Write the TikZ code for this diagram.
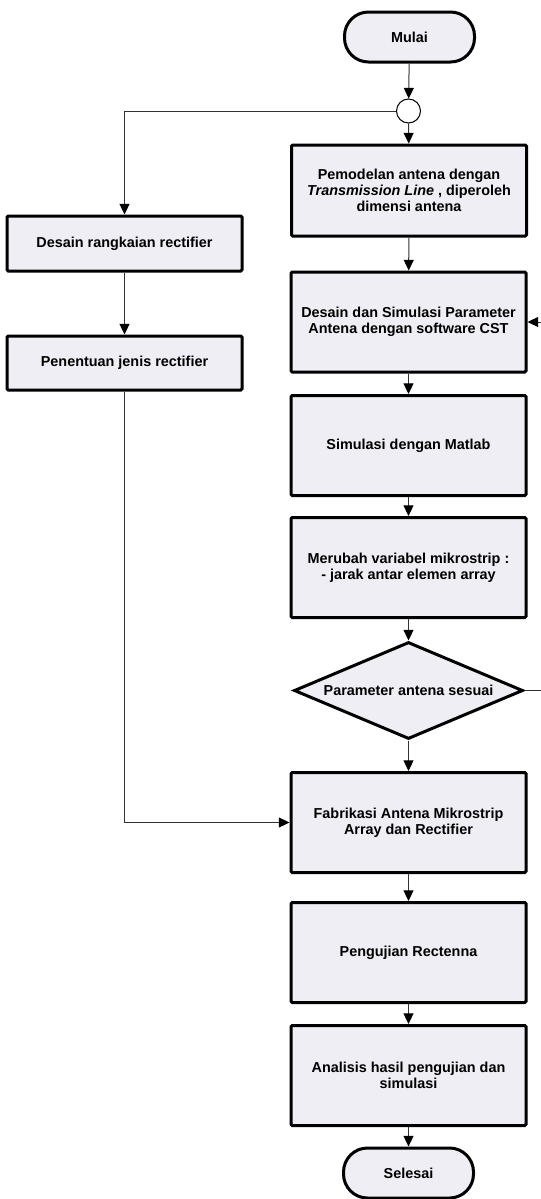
\documentclass[tikz,border=0pt]{standalone}
\usepackage{fontspec}
\setmainfont{Liberation Sans}
\usetikzlibrary{shapes.geometric,arrows.meta}
\definecolor{boxfill}{RGB}{239,238,244}
\definecolor{linecol}{RGB}{50,50,50}
\begin{document}
\begin{tikzpicture}[x=0.75pt,y=-0.75pt,
  every node/.style={font=\fontsize{10.8}{12}\selectfont\bfseries, align=center},
  proc/.style={draw=black, line width=2.25pt, fill=boxfill, rectangle, rounded corners=1pt,
    minimum width=176.25pt, minimum height=75pt, inner sep=0pt},
  term/.style={draw=black, line width=2.25pt, fill=boxfill, rectangle, rounded corners=18pt,
    minimum width=97.5pt, minimum height=37.5pt, inner sep=0pt},
  dec/.style={draw=black, line width=2.25pt, fill=boxfill, diamond, aspect=2.36,
    minimum width=171.75pt, minimum height=72.75pt, inner sep=0pt},
  junction/.style={circle, draw=black, fill=white, line width=0.75pt, minimum size=18pt, inner sep=0pt},
  conn/.style={draw=linecol, line width=0.75pt, -{Triangle[length=8pt,width=7.5pt,color=black]}}
]
\useasboundingbox (0,0) rectangle (541,1199);

\node[term] (start) at (409.5,37) {Mulai};
\node[junction] (junc) at (408.5,111) {};
\node[proc, minimum height=68.25pt] (b1) at (409,190.5) {Pemodelan antena dengan\\\textit{Transmission Line} , diperoleh\\dimensi antena};
\node[proc] (b2) at (408.5,322) {Desain dan Simulasi Parameter\\Antena dengan software CST};
\node[proc] (b3) at (408.5,445.5) {Simulasi dengan Matlab};
\node[proc] (b4) at (408.5,567.5) {Merubah variabel mikrostrip :\\- jarak antar elemen array};
\node[dec] (d1) at (408.5,690.5) {Parameter antena sesuai};
\node[proc] (b5) at (408.5,822.5) {Fabrikasi Antena Mikrostrip\\Array dan Rectifier};
\node[proc] (b6) at (408.5,952.5) {Pengujian Rectenna};
\node[proc] (b7) at (408.5,1075.5) {Analisis hasil pengujian dan\\simulasi};
\node[term] (end) at (408.5,1173) {Selesai};

\node[proc, minimum height=41.25pt] (l1) at (124.5,243.5) {Desain rangkaian rectifier};
\node[proc, minimum height=40.5pt] (l2) at (124.5,363) {Penentuan jenis rectifier};

\coordinate (loop) at (570,690.5);

\draw[conn] (start) -- (junc);
\draw[conn] (junc) -- (b1);
\draw[conn] (junc.west) -| (l1.north);
\draw[conn] (l1) -- (l2);
\draw[conn] (l2.south) |- (b5.west);
\draw[conn] (b1) -- (b2);
\draw[conn] (b2) -- (b3);
\draw[conn] (b3) -- (b4);
\draw[conn] (b4) -- (d1);
\draw[conn] (d1) -- (b5);
\draw[conn] (d1.east) -- (loop) |- (b2.east);
\draw[conn] (b5) -- (b6);
\draw[conn] (b6) -- (b7);
\draw[conn] (b7) -- (end);
\end{tikzpicture}
\end{document}
